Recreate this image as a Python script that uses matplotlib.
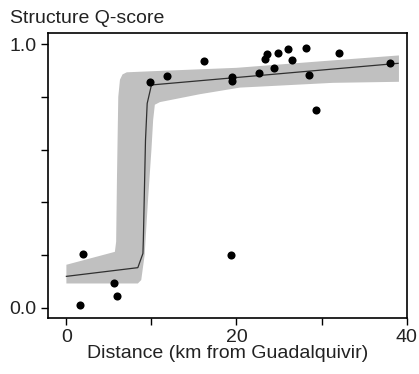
import numpy as np
import matplotlib
matplotlib.use('Agg')
from matplotlib import pyplot as plt

plt.rcParams['font.family'] = ['Liberation Sans', 'DejaVu Sans']

# Sampled populations
dist = [1.6, 2.0, 5.6, 5.9, 9.8, 11.8, 16.2, 19.5, 19.5, 19.4, 22.7, 23.4, 23.6,
        24.4, 24.9, 26.1, 26.5, 28.2, 28.5, 29.3, 32.1, 38.0]
qscore = [0.01, 0.205, 0.092, 0.046, 0.857, 0.879, 0.934, 0.876, 0.861, 0.20, 0.89,
          0.943, 0.963, 0.91, 0.968, 0.981, 0.938, 0.984, 0.884, 0.751, 0.965, 0.927]

# Fitted cline
cline_x = [0, 8.4, 9.0, 9.05, 9.3, 9.5, 10.0, 39.0]
cline_y = [0.119, 0.152, 0.206, 0.26, 0.635, 0.775, 0.845, 0.927]

# Confidence band outline (upper edge left->right, lower edge right->left)
band_x = [0, 5.7, 5.85, 5.95, 6.1, 6.3, 6.6, 7.1, 10.0, 20.0, 30.0, 39.1,
          39.1, 31.3, 23.5, 20.4, 15.7, 11.0, 10.4, 10.2, 10.0, 9.6, 9.2, 8.8, 8.4, 0]
band_y = [0.163, 0.212, 0.25, 0.5, 0.8, 0.865, 0.885, 0.893, 0.897, 0.91, 0.935, 0.957,
          0.857, 0.853, 0.84, 0.835, 0.81, 0.78, 0.77, 0.712, 0.6, 0.41, 0.2, 0.105, 0.092, 0.092]

fig = plt.figure(figsize=(4.19, 3.74), dpi=100)
ax = fig.add_axes([0.1138, 0.1497, 0.8576, 0.762])

ax.fill(band_x, band_y, color='#c0c0c0', lw=0, zorder=1)
ax.plot(cline_x, cline_y, color='#303030', lw=0.9, zorder=2)
ax.scatter(dist, qscore, s=34, color='black', zorder=3, linewidths=0)

ax.set_xlim(-2.2, 40.05)
ax.set_ylim(-0.039, 1.042)
ax.set_xticks([0, 10, 20, 30, 40])
ax.set_xticklabels(['0', '', '20', '', '40'])
ax.set_yticks([0, 0.2, 0.4, 0.6, 0.8, 1.0])
ax.set_yticklabels(['0.0', '', '', '', '', '1.0'])
ax.tick_params(direction='out', length=5, width=1, labelsize=14, pad=3,
               labelcolor='#222222')
for s in ax.spines.values():
    s.set_linewidth(1.2)

ax.set_xlabel('Distance (km from Guadalquivir)', fontsize=14, labelpad=-1,
              color='#222222')
fig.text(0.024, 1 - 23 / 374, 'Structure Q-score', fontsize=14, va='baseline',
         color='#222222')

fig.savefig('out.png', dpi=100)
